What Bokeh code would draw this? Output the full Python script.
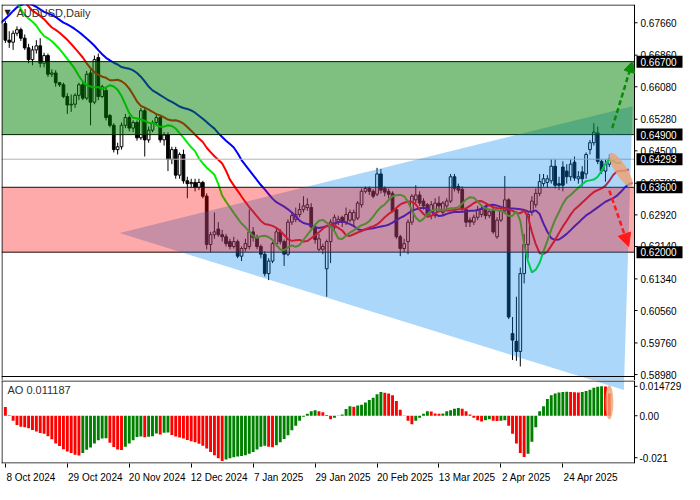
import numpy as np
from bokeh.plotting import figure
from bokeh.layouts import column
from bokeh.models import Range1d, FixedTicker, Label, Arrow, NormalHead
from bokeh.core.properties import value
from bokeh.embed import file_html
from bokeh.resources import INLINE

# ---------------- data ----------------
# daily AUDUSD candles, bar 0 = 8 Oct 2024
open_ = [0.6764,0.6723,0.6718,0.6740,0.6749,0.6728,0.6704,0.6675,0.6699,0.6709,
         0.6666,0.6685,0.6639,0.6642,0.6618,0.6613,0.6584,0.6563,0.6565,0.6587,
         0.6613,0.6580,0.6642,0.6570,0.6680,0.6584,0.6599,0.6537,0.6513,0.6453,
         0.6460,0.6513,0.6532,0.6506,0.6520,0.6482,0.6549,0.6477,0.6501,0.6520,
         0.6532,0.6477,0.6489,0.6429,0.6453,0.6390,0.6441,0.6376,0.6369,0.6372,
         0.6360,0.6372,0.6338,0.6219,0.6243,0.6257,0.6243,0.6238,0.6226,0.6214,
         0.6226,0.6190,0.6209,0.6214,0.6250,0.6236,0.6214,0.6195,0.6147,0.6178,
         0.6221,0.6250,0.6226,0.6195,0.6274,0.6281,0.6293,0.6305,0.6310,0.6310,
         0.6262,0.6207,0.6207,0.6159,0.6226,0.6262,0.6274,0.6286,0.6274,0.6279,
         0.6279,0.6284,0.6317,0.6350,0.6357,0.6350,0.6343,0.6393,0.6357,0.6350,
         0.6345,0.6305,0.6238,0.6209,0.6226,0.6274,0.6329,0.6341,0.6326,0.6317,
         0.6290,0.6290,0.6321,0.6298,0.6314,0.6326,0.6386,0.6362,0.6355,0.6305,
         0.6279,0.6274,0.6286,0.6293,0.6310,0.6290,0.6302,0.6238,0.6279,0.6302,
         0.6329,0.5999,0.5980,0.5955,0.6147,0.6219,0.6298,0.6317,0.6345,0.6369,
         0.6372,0.6376,0.6412,0.6369,0.6410,0.6400,0.6386,0.6422,0.6381,0.6398,
         0.6393,0.6453,0.6470,0.6494,0.6424,0.6400,0.6417]
high = [0.6771,0.6745,0.6747,0.6757,0.6754,0.6737,0.6714,0.6709,0.6723,0.6728,
        0.6692,0.6690,0.6651,0.6649,0.6620,0.6618,0.6592,0.6589,0.6592,0.6618,
        0.6620,0.6647,0.6651,0.6685,0.6690,0.6613,0.6608,0.6541,0.6518,0.6470,
        0.6520,0.6541,0.6537,0.6525,0.6525,0.6556,0.6556,0.6510,0.6525,0.6541,
        0.6537,0.6496,0.6496,0.6460,0.6460,0.6446,0.6453,0.6386,0.6381,0.6381,
        0.6381,0.6376,0.6345,0.6250,0.6298,0.6274,0.6255,0.6245,0.6233,0.6238,
        0.6231,0.6214,0.6233,0.6305,0.6262,0.6243,0.6219,0.6202,0.6185,0.6226,
        0.6262,0.6257,0.6231,0.6281,0.6298,0.6310,0.6321,0.6338,0.6333,0.6321,
        0.6267,0.6245,0.6221,0.6231,0.6281,0.6293,0.6290,0.6290,0.6310,0.6305,
        0.6305,0.6326,0.6357,0.6362,0.6362,0.6355,0.6408,0.6405,0.6362,0.6357,
        0.6350,0.6310,0.6243,0.6233,0.6281,0.6343,0.6365,0.6350,0.6333,0.6321,
        0.6326,0.6333,0.6338,0.6326,0.6333,0.6393,0.6393,0.6369,0.6362,0.6310,
        0.6286,0.6293,0.6314,0.6317,0.6317,0.6305,0.6310,0.6286,0.6310,0.6388,
        0.6333,0.6040,0.6090,0.6162,0.6245,0.6300,0.6338,0.6357,0.6393,0.6393,
        0.6390,0.6429,0.6429,0.6386,0.6424,0.6417,0.6429,0.6436,0.6400,0.6412,
        0.6446,0.6477,0.6518,0.6510,0.6429,0.6429,0.6441]
low = [0.6716,0.6704,0.6699,0.6733,0.6721,0.6699,0.6666,0.6661,0.6690,0.6656,
       0.6656,0.6632,0.6632,0.6608,0.6608,0.6580,0.6541,0.6546,0.6556,0.6575,
       0.6575,0.6575,0.6513,0.6565,0.6575,0.6580,0.6525,0.6508,0.6446,0.6441,
       0.6453,0.6506,0.6498,0.6496,0.6475,0.6477,0.6436,0.6470,0.6496,0.6513,
       0.6470,0.6463,0.6400,0.6417,0.6381,0.6381,0.6369,0.6333,0.6360,0.6350,
       0.6353,0.6333,0.6207,0.6200,0.6233,0.6238,0.6226,0.6214,0.6207,0.6209,
       0.6185,0.6178,0.6202,0.6207,0.6226,0.6207,0.6185,0.6140,0.6131,0.6173,
       0.6214,0.6219,0.6166,0.6190,0.6267,0.6274,0.6286,0.6298,0.6302,0.6255,
       0.6221,0.6202,0.6195,0.6090,0.6173,0.6255,0.6267,0.6262,0.6267,0.6274,
       0.6262,0.6279,0.6310,0.6345,0.6341,0.6333,0.6338,0.6345,0.6338,0.6333,
       0.6298,0.6233,0.6190,0.6200,0.6195,0.6267,0.6321,0.6314,0.6305,0.6286,
       0.6281,0.6284,0.6305,0.6290,0.6305,0.6321,0.6350,0.6345,0.6298,0.6262,
       0.6262,0.6267,0.6279,0.6286,0.6281,0.6284,0.6245,0.6233,0.6274,0.6298,
       0.6035,0.5934,0.5932,0.5918,0.6123,0.6185,0.6290,0.6310,0.6338,0.6362,
       0.6360,0.6369,0.6357,0.6353,0.6350,0.6369,0.6376,0.6376,0.6369,0.6362,
       0.6381,0.6441,0.6463,0.6417,0.6393,0.6374,0.6410]
close = [0.6723,0.6718,0.6740,0.6749,0.6728,0.6704,0.6675,0.6699,0.6709,0.6666,
         0.6685,0.6639,0.6642,0.6618,0.6613,0.6584,0.6563,0.6565,0.6587,0.6613,
         0.6580,0.6639,0.6570,0.6675,0.6584,0.6608,0.6532,0.6513,0.6453,0.6460,
         0.6513,0.6532,0.6506,0.6520,0.6482,0.6549,0.6477,0.6501,0.6520,0.6532,
         0.6477,0.6489,0.6429,0.6453,0.6390,0.6441,0.6376,0.6369,0.6372,0.6360,
         0.6372,0.6338,0.6219,0.6243,0.6250,0.6243,0.6238,0.6221,0.6214,0.6226,
         0.6190,0.6209,0.6221,0.6250,0.6236,0.6214,0.6195,0.6147,0.6178,0.6221,
         0.6250,0.6226,0.6195,0.6274,0.6290,0.6293,0.6305,0.6314,0.6317,0.6262,
         0.6231,0.6233,0.6214,0.6226,0.6274,0.6286,0.6281,0.6274,0.6293,0.6298,
         0.6298,0.6321,0.6350,0.6357,0.6350,0.6338,0.6393,0.6353,0.6348,0.6343,
         0.6302,0.6238,0.6209,0.6221,0.6274,0.6338,0.6341,0.6321,0.6314,0.6293,
         0.6317,0.6321,0.6314,0.6321,0.6326,0.6386,0.6357,0.6353,0.6305,0.6274,
         0.6274,0.6286,0.6305,0.6305,0.6290,0.6300,0.6250,0.6279,0.6302,0.6329,
         0.6040,0.5983,0.5955,0.6147,0.6219,0.6293,0.6326,0.6345,0.6374,0.6381,
         0.6381,0.6412,0.6365,0.6365,0.6365,0.6386,0.6417,0.6383,0.6386,0.6381,
         0.6441,0.6470,0.6496,0.6424,0.6400,0.6417,0.64293]

# median prices of the 31 sessions before 8 Oct 2024 (indicator warm-up)
prehist_median = [0.6775,0.6770,0.6790,0.6775,0.6770,0.6780,0.6730,0.6710,0.6740,0.6705,
                  0.6680,0.6670,0.6665,0.6690,0.6715,0.6735,0.6750,0.6755,0.6790,0.6805,
                  0.6820,0.6860,0.6880,0.6880,0.6895,0.6915,0.6910,0.6880,0.6855,0.6815,
                  0.6770]

# Awesome Oscillator histogram
ao_values = [0.00435,0.00024,-0.00256,-0.00469,-0.00546,-0.00570,-0.00628,-0.00710,-0.00787,-0.00869,
             -0.00903,-0.01029,-0.01174,-0.01386,-0.01512,-0.01676,-0.01787,-0.01869,-0.01946,-0.01995,
             -0.01869,-0.01705,-0.01594,-0.01386,-0.01222,-0.01145,-0.01121,-0.01352,-0.01570,-0.01691,
             -0.01715,-0.01546,-0.01386,-0.01222,-0.01063,-0.01038,-0.01077,-0.01053,-0.01024,-0.00894,
             -0.00942,-0.00855,-0.00836,-0.00966,-0.01038,-0.01087,-0.01135,-0.01208,-0.01280,-0.01328,
             -0.01401,-0.01497,-0.01642,-0.01811,-0.01980,-0.02125,-0.02270,-0.02188,-0.02125,-0.02077,
             -0.02043,-0.02014,-0.01980,-0.01908,-0.01811,-0.01691,-0.01546,-0.01497,-0.01546,-0.01579,
             -0.01473,-0.01328,-0.01159,-0.00980,-0.00725,-0.00497,-0.00256,-0.00048,0.00097,0.00227,
             0.00275,0.00227,0.00179,0.00034,-0.00179,-0.00097,-0.00014,0.00063,0.00338,0.00469,
             0.00449,0.00517,0.00546,0.00662,0.00787,0.00903,0.01077,0.01193,0.01145,0.01111,
             0.01029,0.00739,0.00304,0.00014,-0.00256,-0.00420,-0.00256,-0.00097,0.00097,0.00227,
             0.00217,0.00111,0.00097,0.00111,0.00227,0.00275,0.00353,0.00386,0.00353,0.00227,
             0.00063,-0.00097,-0.00227,-0.00290,-0.00227,-0.00179,-0.00256,-0.00266,-0.00256,-0.00227,
             -0.00497,-0.00903,-0.01386,-0.01869,-0.02062,-0.01898,-0.01304,-0.00580,0.00227,0.00469,
             0.00836,0.01029,0.01111,0.01159,0.01193,0.01198,0.01183,0.01169,0.01159,0.01193,
             0.01241,0.01304,0.01401,0.01449,0.014729,0.01459,0.011187]

date_tick_idx = [0, 16, 32, 48, 64, 80, 96, 112, 128, 144]
date_tick_labels = ["8 Oct 2024", "29 Oct 2024", "20 Nov 2024", "12 Dec 2024", "7 Jan 2025",
                    "29 Jan 2025", "20 Feb 2025", "13 Mar 2025", "2 Apr 2025", "24 Apr 2025"]
price_ticks = [0.6766, 0.6686, 0.6608, 0.6528, 0.6450, 0.6370, 0.6292, 0.6214,
               0.6134, 0.6056, 0.5976, 0.5898]
price_tick_labels = ["0.67660", "0.66860", "0.66080", "0.65280", "0.64500", "0.63700",
                     "0.62920", "0.62140", "0.61340", "0.60560", "0.59760", "0.58980"]
ao_ticks = [0.014729, 0.0, -0.021]
ao_tick_labels = ["0.014729", "0.00", "-0.021"]

green_zone = (0.649, 0.667)
red_zone = (0.620, 0.636)
level_prices = [0.667, 0.649, 0.636, 0.620]
level_labels = ["0.66700", "0.64900", "0.63600", "0.62000"]
last_price = 0.64293
last_label = "0.64293"
ao_label = "AO 0.011187"

triangle_idx = [29.5, 162.0, 159.75]
triangle_price = [0.6247, 0.6560, 0.5860]
up_arrow = (156.75, 0.6506, 162.0, 0.6671)
down_arrow = (156.0, 0.6352, 161.0, 0.6214)
ellipse_main = (159.0, 0.6403)
ellipse_ao = (156.0, 0.0068)

# ---------------- layout ----------------
TOTAL_W = 684
CHART_W = 633            # chart part of each frame, the rest is the price scale strip
MAIN_H = 372
GAP = 4
AO_H = 83
X0, X1 = -1.0, 162.5
PY0, PY1 = 0.58932, 0.6811
AY0, AY1 = -0.0239, 0.01763
FONT = "Liberation Sans"

FRAME_W = TOTAL_W - 1
ppb = CHART_W / (X1 - X0)                 # pixels per bar
XR = X1 + (FRAME_W - CHART_W) / ppb       # right end of the frame (scale strip included)
main_ppu = MAIN_H / (PY1 - PY0)
PYB = PY0 - GAP / main_ppu                # frame bottom incl. the gap below the chart
ao_ppu = AO_H / (AY1 - AY0)

def dx(px):
    return px / ppb

o = np.array(open_); h = np.array(high); l = np.array(low); c = np.array(close)
idx = np.arange(len(c))
x_range = Range1d(X0, XR)

p = figure(frame_width=FRAME_W, frame_height=MAIN_H + GAP, x_range=x_range, y_range=Range1d(PYB, PY1),
           x_axis_location=None, y_axis_location=None, toolbar_location=None,
           output_backend="svg", min_border_left=1, min_border_top=4, min_border_bottom=0,
           min_border_right=0, background_fill_color="white", border_fill_color="white")
p.outline_line_color = None
p.grid.visible = False

# candles
inc = c >= o
p.segment(x0=idx, y0=l, x1=idx, y1=h, line_color="black", line_width=1)
p.vbar(x=idx[inc], width=0.7, top=c[inc], bottom=o[inc], fill_color="white", line_color="black", line_width=1)
p.vbar(x=idx[~inc], width=0.7, top=o[~inc], bottom=c[~inc], fill_color="black", line_color="black", line_width=1)

# Alligator (SMMA of median price, shifted forward)
def smma(vals, n):
    out = np.full(len(vals), np.nan)
    out[n - 1] = np.mean(vals[:n])
    for k in range(n, len(vals)):
        out[k] = (out[k - 1] * (n - 1) + vals[k]) / n
    return out

med_all = np.concatenate([np.array(prehist_median), (h + l) / 2])
g = np.arange(len(med_all)) - len(prehist_median)
for n, shift, col in [(13, 8, "#0000ff"), (8, 5, "#ff0000"), (5, 3, "#00ee00")]:
    s = smma(med_all, n)
    xs = g + shift
    m = (~np.isnan(s)) & (xs >= X0 - 2) & (xs <= X1)
    p.line(xs[m], s[m], line_color=col, line_width=2)

# level lines
p.segment(x0=[X0] * len(level_prices), y0=level_prices, x1=[X1] * len(level_prices), y1=level_prices,
          line_color="black", line_width=1)
p.segment(x0=[X0], y0=[last_price], x1=[X1], y1=[last_price], line_color="#b4b4b4", line_width=1)

# triangle (translucent)
TRI_COL = (0, 135, 240)
p.patch(triangle_idx, triangle_price, fill_color=TRI_COL, fill_alpha=1/3, line_color=None)

# zones
p.quad(left=[X0], right=[X1], bottom=[red_zone[0]], top=[red_zone[1]], fill_color=(255, 0, 0),
       fill_alpha=1/3, line_color=None)
p.quad(left=[X0], right=[X1], bottom=[green_zone[0]], top=[green_zone[1]], fill_color=(0, 127, 0),
       fill_alpha=0.5, line_color=None)

# orange ellipse
p.ellipse(x=[ellipse_main[0]], y=[ellipse_main[1]], width=40, height=12, width_units="screen",
          height_units="screen", angle=-1.0, fill_color="#f0a070", fill_alpha=0.8, line_color=None)

# chart border
p.segment(x0=[X0 + dx(0.5), X1, X0, X0], y0=[PYB, PYB, PY1 - 0.5 / main_ppu, PY0],
          x1=[X0 + dx(0.5), X1, X1, X1], y1=[PY1, PY1, PY1 - 0.5 / main_ppu, PY0],
          line_color="black", line_width=1)

# price scale (strip right of the chart)
p.segment(x0=[X1] * len(price_ticks), y0=price_ticks, x1=[X1 + dx(3)] * len(price_ticks), y1=price_ticks,
          line_color="black", line_width=1)
p.text(x=[X1 + dx(6)] * len(price_ticks), y=price_ticks, text=price_tick_labels,
       text_font=value(FONT), text_font_size=value("10px"), text_color="black",
       text_align="left", text_baseline="middle")
box_y = level_prices + [last_price]
box_t = level_labels + [last_label]
p.rect(x=[X1 + dx(2 + 23)] * len(box_y), y=box_y, width=46, height=12, width_units="screen",
       height_units="screen", fill_color="black", line_color=None)
p.text(x=[X1 + dx(6)] * len(box_y), y=box_y, text=box_t, text_font=value(FONT),
       text_font_size=value("10px"), text_color="white", text_align="left", text_baseline="middle")

# arrows
p.add_layout(Arrow(x_start=up_arrow[0], y_start=up_arrow[1], x_end=up_arrow[2], y_end=up_arrow[3],
                   line_color="#0a8a0a", line_width=2.5, line_dash="5 3",
                   end=NormalHead(size=11, fill_color="#0a8a0a", line_color="#0a8a0a")))
p.add_layout(Arrow(x_start=down_arrow[0], y_start=down_arrow[1], x_end=down_arrow[2], y_end=down_arrow[3],
                   line_color="#ff1a1a", line_width=2.5, line_dash="5 3",
                   end=NormalHead(size=13, fill_color="#ff1a1a", line_color="#ff1a1a")))

# title
p.add_layout(Label(x=3, y=MAIN_H + GAP - 8, x_units="screen", y_units="screen", text="▼",
                   text_font="DejaVu Sans", text_font_size="8px", text_color="#202020",
                   text_baseline="middle"))
p.add_layout(Label(x=15, y=MAIN_H + GAP - 8, x_units="screen", y_units="screen", text="AUDUSD,Daily",
                   text_font=FONT, text_font_size="11px", text_color="#303030", text_baseline="middle"))

# ---------------- AO panel ----------------
q = figure(frame_width=FRAME_W, frame_height=AO_H, x_range=x_range, y_range=Range1d(AY0, AY1),
           y_axis_location=None, toolbar_location=None, output_backend="svg",
           min_border_left=1, min_border_top=0, min_border_bottom=0, min_border_right=0,
           background_fill_color="white", border_fill_color="white")
q.outline_line_color = None
q.grid.visible = False

ao = np.array(ao_values)
rising = np.r_[False, ao[1:] > ao[:-1]]
colors = np.where(rising, "#008000", "#ff0000")
q.vbar(x=idx, top=ao, bottom=0, width=0.75, fill_color=colors, line_color=None)

# continuation of the triangle into the oscillator panel
def clip_below(xs, ys, ylim):
    out = []
    nn = len(xs)
    for k in range(nn):
        x1, y1 = xs[k], ys[k]
        x2, y2 = xs[(k + 1) % nn], ys[(k + 1) % nn]
        in1, in2 = y1 <= ylim, y2 <= ylim
        if in1:
            out.append((x1, y1))
        if in1 != in2:
            t = (ylim - y1) / (y2 - y1)
            out.append((x1 + t * (x2 - x1), ylim))
    return out

poly = clip_below(triangle_idx, triangle_price, PYB)
if poly:
    txs = [pt[0] for pt in poly]
    tys = [AY1 - ((PYB - pt[1]) * main_ppu) / ao_ppu for pt in poly]
    q.patch(txs, tys, fill_color=TRI_COL, fill_alpha=1/3, line_color=None)

q.ellipse(x=[ellipse_ao[0]], y=[ellipse_ao[1]], width=8, height=34, width_units="screen",
          height_units="screen", fill_color="#f0a070", fill_alpha=0.8, line_color=None)

# AO border and scale
q.segment(x0=[X0 + dx(0.5), X1, X0, X0], y0=[AY0, AY0, AY1 - 0.5 / ao_ppu, AY0 + 0.5 / ao_ppu],
          x1=[X0 + dx(0.5), X1, X1, X1], y1=[AY1, AY1, AY1 - 0.5 / ao_ppu, AY0 + 0.5 / ao_ppu],
          line_color="black", line_width=1)
q.segment(x0=[X1] * len(ao_ticks), y0=ao_ticks, x1=[X1 + dx(3)] * len(ao_ticks), y1=ao_ticks,
          line_color="black", line_width=1)
q.text(x=[X1 + dx(5)] * len(ao_ticks), y=ao_ticks, text=ao_tick_labels, text_font=value(FONT),
       text_font_size=value("10px"), text_color="black", text_align="left", text_baseline="middle")

q.add_layout(Label(x=6, y=AO_H - 9, x_units="screen", y_units="screen", text=ao_label,
                   text_font=FONT, text_font_size="11px", text_color="#303030", text_baseline="middle"))

# date axis: minor ticks mark the bars, labels start at the tick
label_pos = [round(t + (len(s) * 4.9 / 2 + 1.0) / ppb, 3) for t, s in zip(date_tick_idx, date_tick_labels)]
xa = q.xaxis[0]
xa.ticker = FixedTicker(ticks=label_pos, minor_ticks=date_tick_idx)
xa.major_label_overrides = {t: s for t, s in zip(label_pos, date_tick_labels)}
xa.major_tick_line_color = None
xa.minor_tick_line_color = "black"
xa.minor_tick_out = 4
xa.minor_tick_in = 0
xa.axis_line_color = None
xa.major_label_standoff = 2
xa.major_label_text_font = FONT
xa.major_label_text_font_size = "10px"
xa.major_label_text_color = "black"

layout = column(p, q, spacing=0)
open("out.html", "w").write(file_html(layout, INLINE))
